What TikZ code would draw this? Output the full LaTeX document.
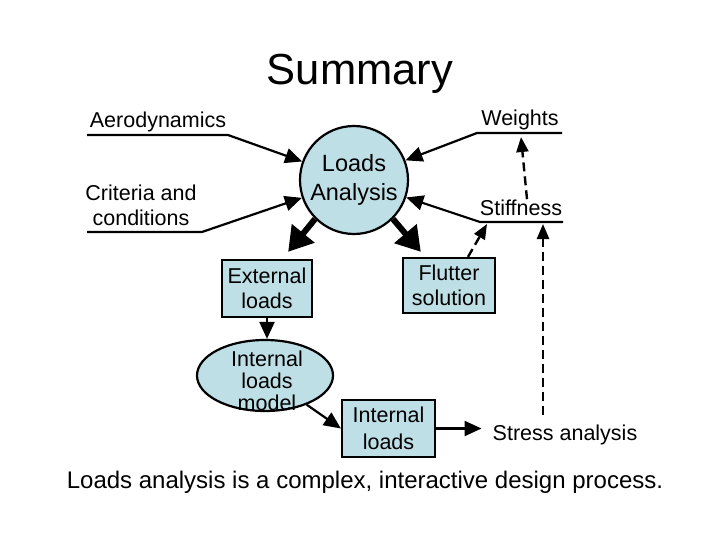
\documentclass[tikz,border=0pt]{standalone}
\usepackage{fontspec}
\setmainfont{Liberation Sans}
\usetikzlibrary{arrows.meta,calc,shapes.geometric}
\definecolor{boxblue}{RGB}{190,223,229}
\begin{document}
\begin{tikzpicture}[x=1pt,y=-1pt,
  lbl/.style={inner sep=0pt, font=\fontsize{21.5}{25}\selectfont, align=center},
  shapebox/.style={draw=black, line width=2.2pt, fill=boxblue, inner sep=0pt, align=center, font=\fontsize{21.5}{25}\selectfont},
  conn/.style={line width=2.2pt, -{Triangle[length=17pt,width=15pt]}},
  fat/.style={line width=6pt, -{Triangle[length=24pt,width=28pt]}},
  dashconn/.style={line width=2.4pt, dash pattern=on 9pt off 5pt, -{Triangle[length=15pt,width=12pt]}}]
\useasboundingbox (0,0) rectangle (720,540);
\fill[white] (0,0) rectangle (720,540);

% texts
\node[lbl, font=\fontsize{43.5}{50}\selectfont, anchor=base] (title) at (360,85) {Summary};
\node[lbl, anchor=base] (aero) at (158,128) {Aerodynamics};
\coordinate (aeroL) at (87,135);
\coordinate (aeroR) at (228,135);
\node[lbl] (crit) at (141,205) {Criteria and\\conditions};
\coordinate (critL) at (87,232);
\coordinate (critR) at (202,232);
\node[lbl, anchor=base] (wts) at (520,126) {Weights};
\coordinate (wL) at (477,133);
\coordinate (wR) at (562,133);
\node[lbl, anchor=base] (stiff) at (521,215) {Stiffness};
\coordinate (sL) at (480,222);
\coordinate (sR) at (563,222);

% shapes
\node[shapebox, circle, minimum size=108pt, font=\fontsize{23.5}{29}\selectfont] (la) at (354,180) {Loads\\Analysis};
\node[shapebox, minimum width=90pt, minimum height=57pt] (ext) at (267,288.5) {External\\loads};
\node[shapebox, minimum width=92pt, minimum height=55pt] (flut) at (449,285.5) {Flutter\\solution};
\node[shapebox, ellipse, minimum width=136pt, minimum height=71pt] (ilm) at (265,375.5) {};
\node[lbl, font=\fontsize{21.5}{22}\selectfont] (ilmtext) at (267,381) {Internal\\loads\\model};
\node[shapebox, minimum width=93pt, minimum height=57pt, font=\fontsize{21.5}{27}\selectfont] (il) at (388.5,428.5) {Internal\\loads};
\node[lbl, anchor=base] (stress) at (565,440) {Stress analysis};
\node[lbl, font=\fontsize{24}{28}\selectfont, anchor=base] (concl) at (365,488) {Loads analysis is a complex, interactive design process.};

% input connectors
\draw[conn] (aeroL) -- (aeroR) -- (la);
\draw[conn] (critL) -- (critR) -- (la);
\draw[conn] (wR) -- (wL) -- (la);
\draw[conn] (sR) -- (sL) -- (la);

% fat outputs
\coordinate (extTip) at ($(ext.north east)+(-25,-7)$);
\coordinate (flTip) at ($(flut.north west)+(19,-5)$);
\draw[fat] (la.225) -- (extTip);
\draw[fat] (la.315) -- (flTip);

% flow
\draw[conn] (ext.south) -- (ext.south |- ilm.north);
\draw[conn] (ilm.-35) -- (il.west);
\draw[conn, shorten >=11pt] (il.east) -- (il.east -| stress.west);

% dashed feedback
\coordinate (sdTop) at (543,224);
\coordinate (fdTip) at (487,224);
\coordinate (wTip) at (521,137);
\draw[dashconn, shorten <=9pt] (sdTop |- stress.north) -- (sdTop);
\draw[dashconn] ($(flut.north)+(19,0)$) -- (fdTip);
\draw[dashconn] ($(stiff.north)+(6,0)$) -- (wTip);
\end{tikzpicture}
\end{document}
